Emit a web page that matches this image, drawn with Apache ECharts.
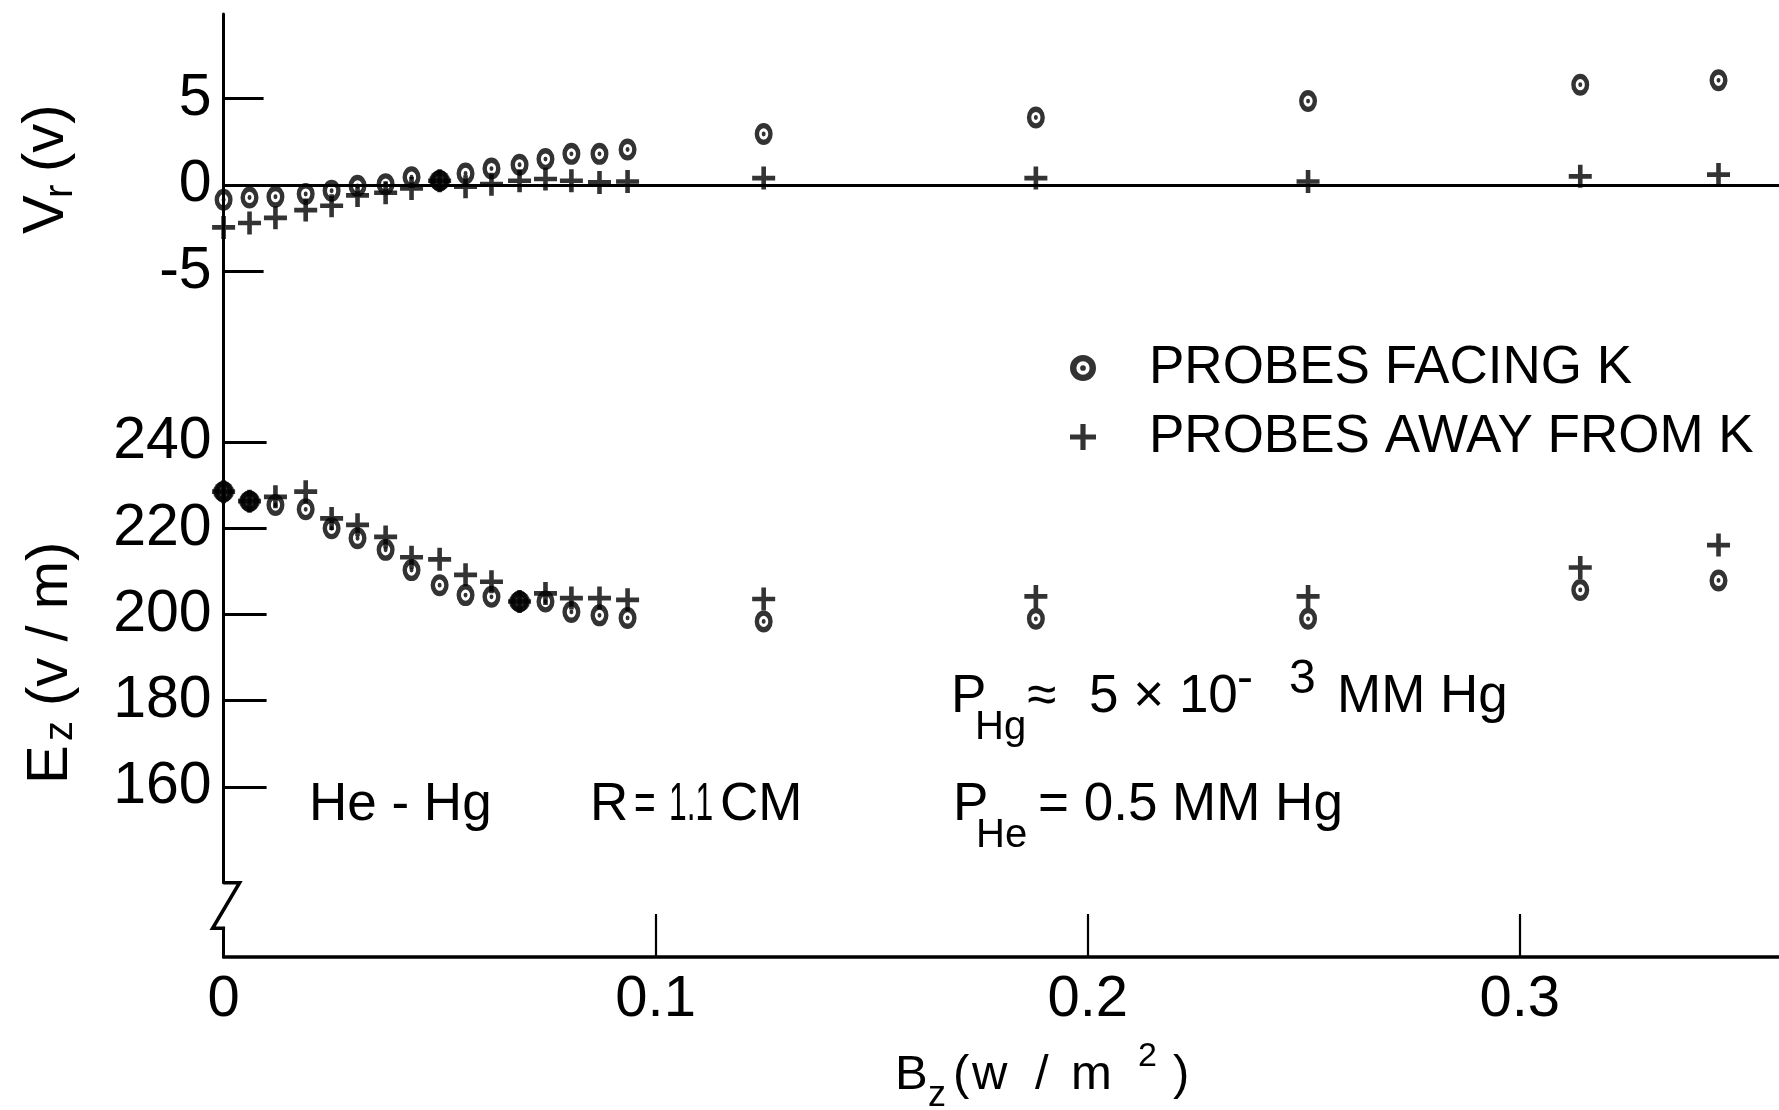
<!DOCTYPE html>
<html><head><meta charset="utf-8">
<script src="https://cdn.jsdelivr.net/npm/echarts@6/dist/echarts.min.js"></script>
<style>html,body{margin:0;padding:0;background:#fff}#c{width:1779px;height:1110px}</style>
</head><body><div id="c"></div>
<script>
// ---- data ----
const bz = [0, 0.006, 0.012, 0.019, 0.025, 0.031, 0.0375, 0.0435, 0.05, 0.056, 0.062, 0.0685, 0.0745, 0.0805, 0.087, 0.0935, 0.125, 0.188, 0.251, 0.314, 0.346];
const vrFacing = [-0.85, -0.72, -0.68, -0.52, -0.33, -0.05, 0.05, 0.45, 0.25, 0.67, 0.95, 1.17, 1.5, 1.8, 1.8, 2.05, 2.95, 3.9, 4.85, 5.8, 6.05];
const vrAway = [-2.45, -2.2, -1.9, -1.45, -1.2, -0.6, -0.45, -0.2, 0.25, -0.1, 0.05, 0.25, 0.35, 0.25, 0.15, 0.2, 0.4, 0.4, 0.2, 0.5, 0.6];
const ezFacing = [228.5, 226.3, 225.4, 224.4, 220.0, 217.7, 215.0, 210.3, 206.8, 204.5, 204.1, 203.0, 203.0, 200.6, 199.8, 199.2, 198.4, 199.0, 199.0, 205.7, 207.9];
const ezAway = [228.5, 226.3, 227.3, 228.5, 222.3, 220.8, 218.0, 213.3, 212.8, 209.2, 207.6, 203.0, 204.9, 203.8, 203.8, 203.4, 203.6, 204.2, 204.2, 210.9, 216.1];
const vrCoincident = [8];          // points where both probes coincide (drawn filled)
const ezCoincident = [0, 1, 11];
const vrTicks = [-5, 0, 5];
const ezTicks = [160, 180, 200, 220, 240];
const bzTicks = [0.1, 0.2, 0.3];
const bzLabels = [0, 0.1, 0.2, 0.3];
const legendNames = ['PROBES FACING K', 'PROBES AWAY FROM K'];

// ---- layout ----
const FONT = '"Liberation Sans", Arial, sans-serif';
const L = 223.6, TOP = 14, BREAK_TOP = 882.7, BREAK_BOT = 928.3, XAXIS_Y = 957;
const VR0_Y = 185, VR_PX = 17.3, EZ200_Y = 614.5, EZ_PX = 4.31;
const vrMax = (VR0_Y - TOP) / VR_PX, vrMin = -(BREAK_TOP - VR0_Y) / VR_PX;
const ezMax = 200 + (EZ200_Y - TOP) / EZ_PX, ezMin = 200 - (BREAK_TOP - EZ200_Y) / EZ_PX;

const RING = 'path://M0,10A10,10 0 0,1 20,10A10,10 0 0,1 0,10Z M4.9,10A5.1,5.1 0 0,0 15.1,10A5.1,5.1 0 0,0 4.9,10Z M7.8,10A2.2,2.2 0 0,1 12.2,10A2.2,2.2 0 0,1 7.8,10Z';
const CROSS = 'path://M0,8H20V12H0Z M8,0H12V20H8Z';

const pts = ys => bz.map((x, i) => [x, ys[i]]);
const sub = (idx, ys) => idx.map(i => [bz[i], ys[i]]);

function txt(x, y, s, size, rot, sx) {
  return { type: 'text', x: x, y: y, rotation: rot || 0, scaleX: sx || 1, silent: true,
    style: { text: s, fontSize: size, fontFamily: FONT, fill: '#000', align: 'left', verticalAlign: 'middle' } };
}
const R90 = Math.PI / 2;

const chart = echarts.init(document.getElementById('c'), null, { renderer: 'canvas' });
const axisText = { color: '#000', fontFamily: FONT, fontSize: 59 };
chart.setOption({
  backgroundColor: '#fff',
  animation: false,
  grid: [
    { left: L, right: 0, top: TOP, height: BREAK_TOP - TOP, outerBoundsMode: 'none' },
    { left: L, right: 0, top: BREAK_BOT, height: XAXIS_Y - BREAK_BOT, outerBoundsMode: 'none' }
  ],
  xAxis: [
    { gridIndex: 0, type: 'value', min: 0, max: 0.36,
      axisLine: { show: true, onZero: true, onZeroAxisIndex: 0, lineStyle: { color: '#000', width: 3 } },
      axisTick: { show: false }, axisLabel: { show: false }, splitLine: { show: false } },
    { gridIndex: 1, type: 'value', min: 0, max: 0.36,
      axisLine: { show: true, onZero: false, lineStyle: { color: '#000', width: 3.5 } },
      axisTick: { show: true, inside: true, length: 43, customValues: bzTicks, lineStyle: { color: '#000', width: 2.2 } },
      axisLabel: { customValues: bzLabels, margin: 14, fontSize: 58, color: '#000', fontFamily: FONT,
        formatter: v => v === 0 ? '0' : v.toFixed(1) },
      splitLine: { show: false } }
  ],
  yAxis: [
    { gridIndex: 0, type: 'value', position: 'left', min: vrMin, max: vrMax,
      axisLine: { show: true, onZero: false, lineStyle: { color: '#000', width: 3 } },
      axisTick: { show: true, inside: true, length: 40, customValues: vrTicks, lineStyle: { color: '#000', width: 2.8 } },
      axisLabel: Object.assign({ customValues: vrTicks, margin: 12, formatter: v => String(v) }, axisText),
      splitLine: { show: false } },
    { gridIndex: 0, type: 'value', position: 'left', offset: 0, min: ezMin, max: ezMax,
      axisLine: { show: false },
      axisTick: { show: true, inside: true, length: 43, customValues: ezTicks, lineStyle: { color: '#000', width: 2.8 } },
      axisLabel: Object.assign({ customValues: ezTicks, margin: 12, formatter: v => String(v) }, axisText),
      splitLine: { show: false } },
    { gridIndex: 1, type: 'value', position: 'left', min: 0, max: 1,
      axisLine: { show: true, onZero: false, lineStyle: { color: '#000', width: 3 } },
      axisTick: { show: false }, axisLabel: { show: false }, splitLine: { show: false } }
  ],
  legend: {
    data: legendNames, orient: 'vertical', left: 1065, top: 333, itemGap: 9,
    itemWidth: 26, itemHeight: 27, selectedMode: false,
    textStyle: { color: '#000', fontFamily: FONT, fontSize: 53, lineHeight: 60, padding: [0, 0, 0, 48] }
  },
  series: [
    { name: legendNames[0], type: 'scatter', xAxisIndex: 0, yAxisIndex: 0, data: pts(vrFacing), clip: false,
      symbol: RING, symbolSize: [18, 22], itemStyle: { color: '#000' } },
    { name: legendNames[0], type: 'scatter', xAxisIndex: 0, yAxisIndex: 1, data: pts(ezFacing), clip: false,
      symbol: RING, symbolSize: [18, 22], itemStyle: { color: '#000' } },
    { name: legendNames[1], type: 'scatter', xAxisIndex: 0, yAxisIndex: 0, data: pts(vrAway), clip: false,
      symbol: CROSS, symbolSize: 23, itemStyle: { color: '#000' } },
    { name: legendNames[1], type: 'scatter', xAxisIndex: 0, yAxisIndex: 1, data: pts(ezAway), clip: false,
      symbol: CROSS, symbolSize: 23, itemStyle: { color: '#000' } },
    { name: 'coincident', type: 'scatter', xAxisIndex: 0, yAxisIndex: 0, data: sub(vrCoincident, vrFacing), clip: false,
      symbol: 'circle', symbolSize: 21, itemStyle: { color: '#000' } },
    { name: 'coincident', type: 'scatter', xAxisIndex: 0, yAxisIndex: 1, data: sub(ezCoincident, ezFacing), clip: false,
      symbol: 'circle', symbolSize: 21, itemStyle: { color: '#000' } }
  ],
  graphic: [
    // axis break zig-zag
    { type: 'polyline', silent: true,
      shape: { points: [[L, BREAK_TOP], [L + 16, BREAK_TOP], [L - 11, BREAK_BOT], [L + 1.5, BREAK_BOT]] },
      style: { stroke: '#000', lineWidth: 3.5, fill: null, lineJoin: 'miter' } },
    // y-axis titles (rotated)
    txt(47, 234, 'V', 58, R90),
    txt(61, 198, 'r', 40, R90),
    txt(47, 172, '(v)', 58, R90),
    txt(51, 784, 'E', 58, R90),
    txt(61, 741, 'z', 40, R90),
    txt(51, 706, '(v / m)', 58, R90),
    // x-axis title
    txt(895, 1075, 'B', 49),
    txt(928, 1096, 'z', 36),
    txt(953, 1075, '(', 49),
    txt(972, 1075, 'w', 49),
    txt(1035, 1075, '/', 49),
    txt(1071, 1075, 'm', 49),
    txt(1138, 1057, '2', 34),
    txt(1173, 1075, ')', 49),
    // annotations
    txt(951, 697, 'P', 53),
    txt(975, 728, 'Hg', 40),
    txt(1027, 697, '\u2248', 53),
    txt(1089, 697, '5 \u00d7 10', 53),
    txt(1237, 680, '-', 48),
    txt(1289, 680, '3', 48),
    txt(1337, 697, 'MM Hg', 53),
    txt(309, 805, 'He - Hg', 53),
    txt(590, 805, 'R', 53),
    txt(634, 805, '=', 53, 0, 0.7),
    txt(669, 805, '1.1', 53, 0, 0.6),
    txt(720, 805, 'CM', 53),
    txt(953, 805, 'P', 53),
    txt(976, 836, 'He', 40),
    txt(1038, 805, '= 0.5 MM Hg', 53)
  ]
});
</script>
</body></html>
